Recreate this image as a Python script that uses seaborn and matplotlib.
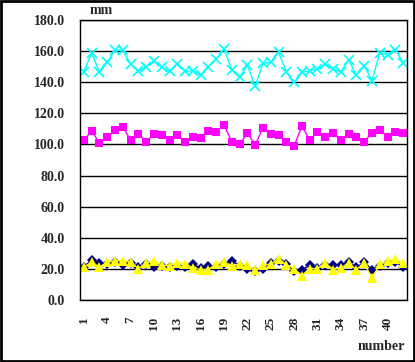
import numpy as np
import pandas as pd
import matplotlib
matplotlib.use("Agg")
import matplotlib.pyplot as plt
import seaborn as sns
from matplotlib.patches import Rectangle

# data
number = list(range(1, 43))

cyan_vals = [146.7, 159.0, 146.3, 153.0, 160.6, 160.6, 151.6, 147.0, 150.0, 153.7,
             149.5, 147.0, 152.0, 147.0, 147.4, 144.6, 150.0, 154.7, 161.5, 148.0,
             143.2, 151.0, 137.5, 152.2, 153.0, 159.4, 146.7, 140.0, 146.3, 147.4,
             148.4, 151.6, 148.4, 146.7, 154.3, 144.6, 150.5, 141.0, 159.0, 157.3,
             161.0, 152.6]

magenta_vals = [102.8, 108.6, 101.0, 104.7, 109.2, 111.2, 102.8, 106.9, 101.7, 106.9,
                106.0, 102.8, 106.0, 101.7, 104.7, 103.9, 108.6, 108.0, 112.5, 101.7,
                100.0, 107.5, 99.6, 110.8, 106.9, 106.0, 101.7, 98.9, 111.8, 102.8,
                108.2, 104.7, 107.5, 102.8, 106.9, 104.7, 101.7, 107.5, 109.0, 104.7,
                108.2, 107.5]

navy_vals = [21.5, 25.5, 23.5, 23.0, 24.5, 22.5, 24.0, 21.0, 23.0, 21.0,
             22.0, 21.0, 22.0, 21.5, 23.0, 20.5, 22.0, 21.0, 23.0, 25.3,
             22.0, 20.0, 18.5, 20.0, 23.8, 25.0, 23.2, 18.5, 19.0, 22.7,
             20.5, 22.7, 22.3, 22.7, 24.4, 21.0, 24.2, 19.6, 22.0, 23.8,
             24.4, 21.3]

yellow_vals = [21.3, 24.2, 21.3, 24.2, 25.3, 25.3, 24.4, 20.2, 23.8, 25.3,
               22.3, 22.1, 24.0, 23.4, 20.6, 19.6, 19.6, 23.2, 24.4, 21.7,
               23.2, 22.3, 19.0, 22.3, 23.2, 26.3, 22.7, 20.2, 15.3, 20.2,
               20.2, 23.8, 19.6, 20.6, 23.8, 19.6, 23.8, 13.9, 23.0, 24.9,
               26.3, 23.8]

y_ticks = list(range(0, 181, 20))
x_labels = list(range(1, 41, 3))

sns.set_style("white")
plt.rcParams['font.family'] = ['Liberation Serif', 'DejaVu Serif']

fig = plt.figure(figsize=(4.15, 3.62), dpi=100)
ax = fig.add_axes([80 / 415, 1 - 300 / 362, 327 / 415, 280 / 362])

sns.lineplot(x=number, y=cyan_vals, ax=ax, color='#00FFFF', lw=1,
             marker='x', markersize=7, markeredgewidth=1.2, markeredgecolor='#00FFFF')
sns.lineplot(x=number, y=magenta_vals, ax=ax, color='#FF00FF', lw=1,
             marker='s', markersize=6, markeredgewidth=0, markerfacecolor='#FF00FF')
sns.lineplot(x=number, y=navy_vals, ax=ax, color='#000080', lw=1,
             marker='D', markersize=5.5, markeredgewidth=0, markerfacecolor='#000080')
sns.lineplot(x=number, y=yellow_vals, ax=ax, color='#FFFF00', lw=1,
             marker='^', markersize=7, markeredgewidth=0, markerfacecolor='#FFFF00')

ax.set_xlim(0.5, 42.5)
ax.set_ylim(0, 180)
ax.set_yticks(y_ticks)
ax.set_yticklabels([f"{v:.1f}" for v in y_ticks], fontsize=10, fontweight='bold')
ax.tick_params(axis='y', length=0, pad=11)
ax.yaxis.grid(True, color='black', lw=1)
ax.set_axisbelow(True)

ax.set_xticks(x_labels)
ax.set_xticklabels([str(v) for v in x_labels], rotation=90, fontsize=9.5, fontweight='bold')
ax.tick_params(axis='x', which='major', length=0, pad=12)
ax.set_xticks([k + 0.5 for k in range(1, 42)], minor=True)
ax.tick_params(axis='x', which='minor', direction='in', length=3, width=1, color='black')

for s in ax.spines.values():
    s.set_color('black')
    s.set_linewidth(1)

fig.text(90 / 415, 1 - 10 / 362, "mm", fontsize=10, fontweight='bold', va='center', ha='left')
fig.text(405 / 415, 1 - 346 / 362, "number", fontsize=10, fontweight='bold', va='center', ha='right')

fig.add_artist(Rectangle((0.002, 0.003), 0.995, 0.994, transform=fig.transFigure,
                         fill=False, edgecolor='black', lw=2))

fig.savefig("out.png", dpi=100)
